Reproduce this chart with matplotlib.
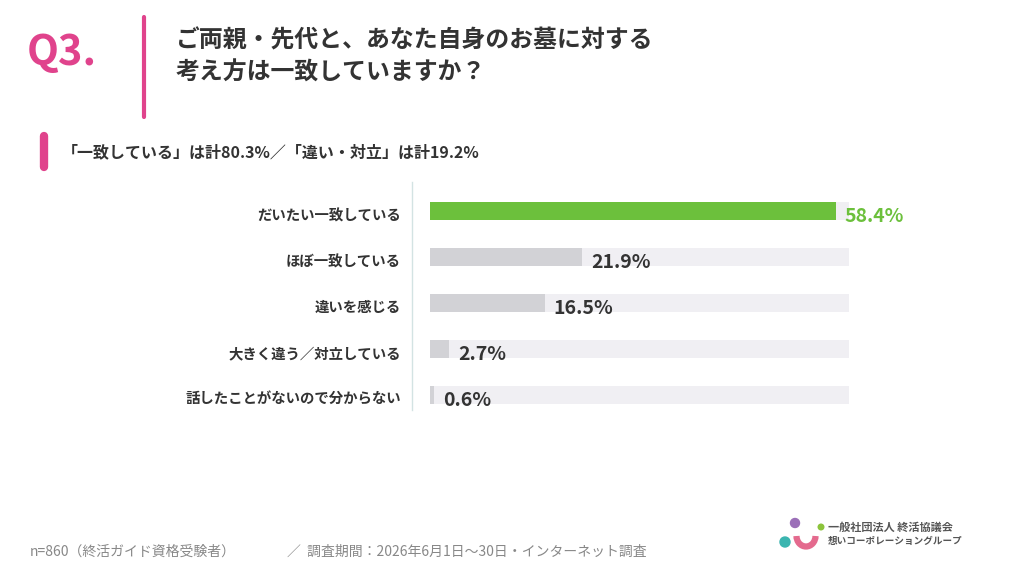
import matplotlib
matplotlib.use("Agg")
import matplotlib.pyplot as plt
from matplotlib.patches import Circle, Arc
from matplotlib.lines import Line2D
import matplotlib.transforms as mtransforms

plt.rcParams['font.family'] = ['Noto Sans CJK JP', 'DejaVu Sans']

categories = ["だいたい一致している", "ほぼ一致している", "違いを感じる",
              "大きく違う／対立している", "話したことがないので分からない"]
values = [58.4, 21.9, 16.5, 2.7, 0.6]
value_labels = ["58.4%", "21.9%", "16.5%", "2.7%", "0.6%"]
highlight = [True, False, False, False, False]

title_q = "Q3."
title_lines = ["ご両親・先代と、あなた自身のお墓に対する", "考え方は一致していますか？"]
subtitle = "「一致している」は計80.3%／「違い・対立」は計19.2%"
footer_left = "n=860（終活ガイド資格受験者）"
footer_right = "／  調査期間：2026年6月1日～30日・インターネット調査"
logo_lines = ["一般社団法人 終活協議会", "想いコーポレーショングループ"]

W, H = 1024, 576
fig = plt.figure(figsize=(W / 100, H / 100), dpi=100)
fig.patch.set_facecolor("white")

def fx(px):
    return px / W

def fy(py):
    return 1 - py / H

PINK = "#e0438c"
GREEN = "#6cc03c"
DARK = "#333333"
TRACK = "#f0eff3"
GREY_BAR = "#d2d2d6"

# Header
fig.text(fx(27), fy(53), title_q, color=PINK, fontsize=30, fontweight="bold",
         va="center", ha="left")
fig.add_artist(Line2D([fx(144), fx(144)], [fy(17), fy(117)], color=PINK, lw=3,
                      solid_capstyle="round"))
fig.text(fx(176), fy(40), title_lines[0], color=DARK, fontsize=17.2, fontweight="bold",
         va="center", ha="left")
fig.text(fx(176), fy(73), title_lines[1], color=DARK, fontsize=17.2, fontweight="bold",
         va="center", ha="left")

# Subtitle
fig.add_artist(Line2D([fx(44), fx(44)], [fy(136), fy(167)], color=PINK, lw=6,
                      solid_capstyle="round"))
fig.text(fx(62), fy(152), subtitle, color=DARK, fontsize=11.5, fontweight="bold",
         va="center", ha="left")

# Bars axes
x0, x1 = 430, 849
y_top, y_bot = 188, 418
ax = fig.add_axes([fx(x0), fy(y_bot), fx(x1 - x0), (y_bot - y_top) / H])
xmax = 60.3
ax.set_xlim(0, xmax)
ax.set_ylim(len(categories) - 0.5, -0.5)
pos = list(range(len(categories)))
bh = 0.41
ax.barh(pos, [xmax] * len(pos), height=bh, color=TRACK, zorder=1)
colors = [GREEN if h else GREY_BAR for h in highlight]
ax.barh(pos, values, height=bh, color=colors, zorder=2)
for p, v, lab, h in zip(pos, values, value_labels, highlight):
    ax.annotate(lab, xy=(v, p), xytext=(6.5, -4), textcoords="offset points",
                ha="left", va="center", fontsize=14, fontweight="bold",
                color=GREEN if h else DARK, zorder=3)
ax.set_yticks(pos)
ax.set_yticklabels(categories, fontsize=10.4, fontweight="bold", color=DARK)
ax.tick_params(axis="y", length=0, pad=21)
shift = mtransforms.ScaledTranslation(0, -2.5 / 72, fig.dpi_scale_trans)
for t in ax.get_yticklabels():
    t.set_transform(t.get_transform() + shift)
ax.set_xticks([])
for s in ax.spines.values():
    s.set_visible(False)
ax.set_facecolor("none")

fig.add_artist(Line2D([fx(412), fx(412)], [fy(182), fy(410)], color="#d3e3e3", lw=1))

# Footer
fig.text(fx(30), fy(552), footer_left, color="#888888", fontsize=10, va="center", ha="left")
fig.text(fx(287), fy(552), footer_right, color="#888888", fontsize=10, va="center", ha="left")

# Logo
lax = fig.add_axes([fx(775), fy(555), fx(50), 45 / H])
lax.set_xlim(775, 825)
lax.set_ylim(555, 510)
lax.set_aspect("equal")
lax.axis("off")
lax.add_patch(Circle((795, 523), 4.5, color="#9b6fb8"))
lax.add_patch(Circle((821, 527), 2.8, color="#8cc43c"))
lax.add_patch(Circle((785, 542), 5, color="#3bb5b0"))
lax.add_patch(Arc((806, 536), 19, 21, theta1=0, theta2=180, lw=4.5, color="#e46a8e"))
fig.text(fx(828), fy(527), logo_lines[0], color="#555555", fontsize=8, fontweight="bold",
         va="center", ha="left")
fig.text(fx(828), fy(541), logo_lines[1], color="#555555", fontsize=6.9, fontweight="bold",
         va="center", ha="left")

fig.savefig("out.png", dpi=100, facecolor="white")
